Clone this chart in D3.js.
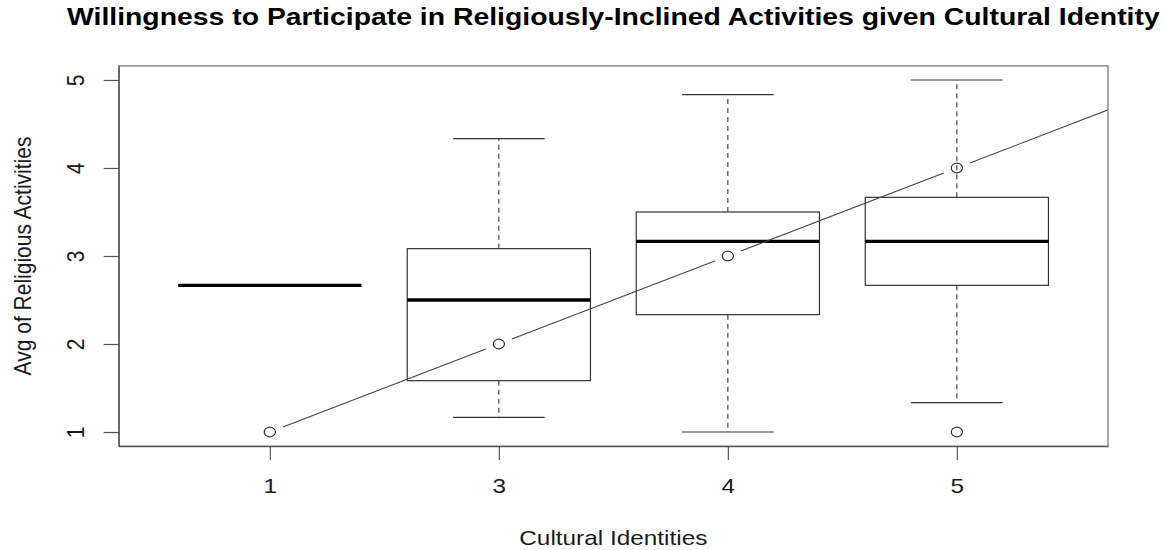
<!DOCTYPE html>
<html>
<head>
<meta charset="utf-8">
<script src="https://cdn.jsdelivr.net/npm/d3@7"></script>
<style>
  html, body { margin: 0; padding: 0; background: #fff; overflow: hidden; }
  svg { display: block; font-family: "Liberation Sans", Arial, Helvetica, sans-serif; }
</style>
</head>
<body>
<svg id="chart" width="1164" height="550"></svg>
<script>
// Box-plot summary per cultural identity group
const categories = ["1", "3", "4", "5"];
const whiskerLow  = [8 / 3, 7 / 6, 1.0, 4 / 3];
const quartile1   = [8 / 3, 19 / 12, 7 / 3, 8 / 3];
const medians     = [8 / 3, 2.5, 19 / 6, 19 / 6];
const quartile3   = [8 / 3, 37 / 12, 3.5, 11 / 3];
const whiskerHigh = [8 / 3, 13 / 3, 29 / 6, 5.0];
const outliers = [[], [], [], [1.0]];

// Overlaid trend (points joined with gaps)
const trendX = [1, 2, 3, 4, 5];
const trendY = [1, 2, 3, 4, 5];

const yTicks = [1, 2, 3, 4, 5];
const titleText = "Willingness to Participate in Religiously-Inclined Activities given Cultural Identity";
const xTitle = "Cultural Identities";
const yTitle = "Avg of Religious Activities";

const svg = d3.select("#chart");
const W = 1164;
const plot = { left: 118.7, right: 1108, top: 65.9, bottom: 446.1 };
const sx = 1.16;          // device is wider than tall: glyphs and symbols are stretched horizontally
const baseFont = 21;
const ink = "#1a1a1a";

const x = d3.scaleLinear().domain([0.34, 4.66]).range([plot.left, plot.right]);
const y = d3.scaleLinear().domain([0.84, 5.16]).range([plot.bottom, plot.top]);

const boxW = 0.8, capW = 0.4;
const lineCol = "#333";

svg.append("defs").append("clipPath").attr("id", "plotClip")
  .append("rect")
  .attr("x", plot.left).attr("y", plot.top)
  .attr("width", plot.right - plot.left).attr("height", plot.bottom - plot.top);

const groups = categories.map((c, i) => ({
  pos: i + 1, lo: whiskerLow[i], q1: quartile1[i], med: medians[i],
  q3: quartile3[i], hi: whiskerHigh[i], out: outliers[i]
}));

const g = svg.append("g");

groups.forEach(d => {
  const cx = x(d.pos);
  const half = (x(d.pos + boxW / 2) - x(d.pos - boxW / 2)) / 2;
  const capHalf = (x(d.pos + capW / 2) - x(d.pos - capW / 2)) / 2;
  if (d.hi > d.q3) {
    g.append("line").attr("x1", cx).attr("x2", cx).attr("y1", y(d.q3)).attr("y2", y(d.hi))
      .attr("stroke", lineCol).attr("stroke-width", 1.1).attr("stroke-dasharray", "5,4");
    g.append("line").attr("x1", cx - capHalf).attr("x2", cx + capHalf).attr("y1", y(d.hi)).attr("y2", y(d.hi))
      .attr("stroke", lineCol).attr("stroke-width", 1.2);
  }
  if (d.lo < d.q1) {
    g.append("line").attr("x1", cx).attr("x2", cx).attr("y1", y(d.q1)).attr("y2", y(d.lo))
      .attr("stroke", lineCol).attr("stroke-width", 1.1).attr("stroke-dasharray", "5,4");
    g.append("line").attr("x1", cx - capHalf).attr("x2", cx + capHalf).attr("y1", y(d.lo)).attr("y2", y(d.lo))
      .attr("stroke", lineCol).attr("stroke-width", 1.2);
  }
  if (d.q3 > d.q1) {
    g.append("rect").attr("x", cx - half).attr("y", y(d.q3))
      .attr("width", 2 * half).attr("height", y(d.q1) - y(d.q3))
      .attr("fill", "none").attr("stroke", lineCol).attr("stroke-width", 1.2);
  }
  g.append("line").attr("x1", cx - half).attr("x2", cx + half).attr("y1", y(d.med)).attr("y2", y(d.med))
    .attr("stroke", "#000").attr("stroke-width", 3.4);
  d.out.forEach(v => {
    g.append("ellipse").attr("cx", cx).attr("cy", y(v)).attr("rx", 5.6).attr("ry", 4.8)
      .attr("fill", "none").attr("stroke", lineCol).attr("stroke-width", 1.2);
  });
});

// Trend line: points joined by segments that stop short of each point
const trend = svg.append("g").attr("clip-path", "url(#plotClip)");
const gap = 14;
const pts = trendX.map((v, i) => [x(v), y(trendY[i])]);
for (let i = 0; i < pts.length - 1; i++) {
  const [x0, y0] = pts[i], [x1, y1] = pts[i + 1];
  const len = Math.hypot(x1 - x0, y1 - y0);
  const ux = (x1 - x0) / len, uy = (y1 - y0) / len;
  trend.append("line")
    .attr("x1", x0 + ux * gap).attr("y1", y0 + uy * gap)
    .attr("x2", x1 - ux * gap).attr("y2", y1 - uy * gap)
    .attr("stroke", "#444").attr("stroke-width", 1.1);
}
trend.selectAll("ellipse.trend").data(pts).enter().append("ellipse")
  .attr("class", "trend")
  .attr("cx", d => d[0]).attr("cy", d => d[1]).attr("rx", 5.6).attr("ry", 4.8)
  .attr("fill", "none").attr("stroke", lineCol).attr("stroke-width", 1.2);

// Plot frame
svg.append("rect")
  .attr("x", plot.left).attr("y", plot.top)
  .attr("width", plot.right - plot.left).attr("height", plot.bottom - plot.top)
  .attr("fill", "none").attr("stroke", "#777").attr("stroke-width", 1.3);

// X axis
const xAxis = d3.axisBottom(x)
  .tickValues(groups.map(d => d.pos))
  .tickFormat((d, i) => categories[i])
  .tickSizeInner(14).tickSizeOuter(0);
const gx = svg.append("g").attr("transform", `translate(0,${plot.bottom})`).call(xAxis);
gx.select(".domain").attr("stroke", "#555").attr("stroke-width", 1.3);
gx.selectAll(".tick line").attr("stroke", "#555").attr("stroke-width", 1.2);
gx.selectAll(".tick text")
  .attr("y", null).attr("dy", null)
  .attr("transform", `translate(0,${493 - plot.bottom}) scale(${sx},1)`)
  .attr("font-size", baseFont).attr("fill", ink)
  .attr("font-family", "Liberation Sans, Arial, sans-serif");

// Y axis, labels parallel to the axis
const yAxis = d3.axisLeft(y).tickValues(yTicks).tickFormat(d3.format("d"))
  .tickSizeInner(15).tickSizeOuter(0);
const gy = svg.append("g").attr("transform", `translate(${plot.left},0)`).call(yAxis);
gy.select(".domain").attr("stroke", "#555").attr("stroke-width", 1.3);
gy.selectAll(".tick line").attr("stroke", "#555").attr("stroke-width", 1.2);
gy.selectAll(".tick text")
  .attr("x", null).attr("dy", null)
  .attr("transform", `translate(${84 - plot.left},0) scale(${sx},1) rotate(-90)`)
  .attr("text-anchor", "middle")
  .attr("font-size", baseFont).attr("fill", ink)
  .attr("font-family", "Liberation Sans, Arial, sans-serif");

// Titles
const midX = (plot.left + plot.right) / 2;
const title = svg.append("text")
  .attr("text-anchor", "middle").attr("font-weight", "bold").attr("font-size", 24.5)
  .attr("fill", "#000").text(titleText);
// keep the stretched title inside the page width
const maxHalf = Math.min(midX, W - midX) - 4;
const natural = title.node().getComputedTextLength();
const titleSx = Math.min(sx, (2 * maxHalf) / natural);
title.attr("transform", `translate(${midX},25) scale(${titleSx},1)`);

svg.append("text")
  .attr("transform", `translate(${midX},545) scale(${sx},1)`)
  .attr("text-anchor", "middle").attr("font-size", baseFont).attr("fill", ink).text(xTitle);
svg.append("text")
  .attr("transform", `translate(31,${(plot.top + plot.bottom) / 2}) scale(${sx},1) rotate(-90)`)
  .attr("text-anchor", "middle").attr("font-size", baseFont).attr("fill", ink).text(yTitle);
</script>
</body>
</html>
